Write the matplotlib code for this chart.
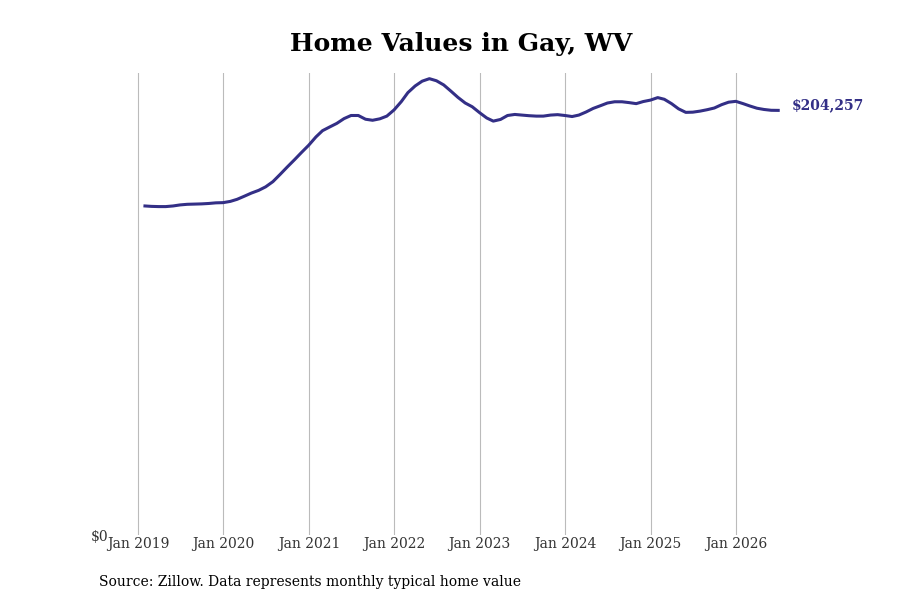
import matplotlib
matplotlib.use("Agg")
import matplotlib.pyplot as plt
import matplotlib.dates as mdates
import pandas as pd
import numpy as np

# monthly typical home value, Gay WV, end-of-month dates
months = pd.date_range("2019-01-31", "2026-06-30", freq="ME")
values = [
    158.3, 158.1, 158.0, 158.0, 158.3, 158.8, 159.1, 159.2, 159.3, 159.5, 159.8, 159.9,
    160.5, 161.5, 163.0, 164.5, 165.8, 167.5, 170.0, 173.5, 177.0, 180.5, 184.0, 187.5,
    191.5, 194.5, 196.3, 198.0, 200.3, 201.8, 201.8, 200.0, 199.5, 200.2, 201.5, 204.5,
    208.5, 212.8, 216.0, 218.3, 219.5, 218.5, 216.5, 213.5, 210.5, 207.8, 206.0, 203.2,
    200.6, 199.1, 199.9, 201.8, 202.3, 202.0, 201.7, 201.5, 201.5, 202.0, 202.2, 201.8,
    201.3, 202.0, 203.5, 205.2, 206.5, 207.8, 208.4, 208.4, 208.0, 207.5, 208.5, 209.2,
    210.4, 209.6, 207.5, 205.0, 203.3, 203.4, 203.9, 204.6, 205.4, 207.0, 208.2, 208.6,
    207.5, 206.4, 205.3, 204.7, 204.3, 204.257,
]
values = np.array(values) * 1000
tick_years = list(range(2019, 2027))
line_color = "#332f86"

fig = plt.figure(figsize=(9, 6), dpi=100)
ax = fig.add_axes([0.12, 0.108, 0.76, 0.77])

ax.plot(months, values, color=line_color, lw=2.2)

ax.set_xlim(pd.Timestamp("2018-08-26"), pd.Timestamp("2026-08-28"))
ax.set_ylim(0, values.max() * 1.012)

ax.set_xticks([pd.Timestamp(f"{y}-01-01") for y in tick_years])
ax.xaxis.set_major_formatter(mdates.DateFormatter("%b %Y"))
ax.set_yticks([0])
ax.set_yticklabels(["$0"])
ax.tick_params(length=0, labelsize=10, colors="#333333")
ax.tick_params(axis="x", pad=1.5)
ax.tick_params(axis="y", pad=0)
for lab in ax.get_xticklabels() + ax.get_yticklabels():
    lab.set_family("DejaVu Serif")

ax.grid(axis="x", color="#bbbbbb", lw=0.8)
ax.grid(axis="y", visible=False)
for s in ax.spines.values():
    s.set_visible(False)

ax.annotate(f"${values[-1]:,.0f}", xy=(months[-1], values[-1]), xytext=(10, 3.5),
            textcoords="offset points", va="center", ha="left",
            fontsize=10, fontweight="bold", color=line_color, family="DejaVu Serif")

fig.suptitle("Home Values in Gay, WV", x=0.512, y=0.947, fontsize=18,
             fontweight="bold", family="DejaVu Serif")
fig.text(0.11, 0.023, "Source: Zillow. Data represents monthly typical home value",
         fontsize=10, family="DejaVu Serif")

fig.savefig("out.png", dpi=100)
